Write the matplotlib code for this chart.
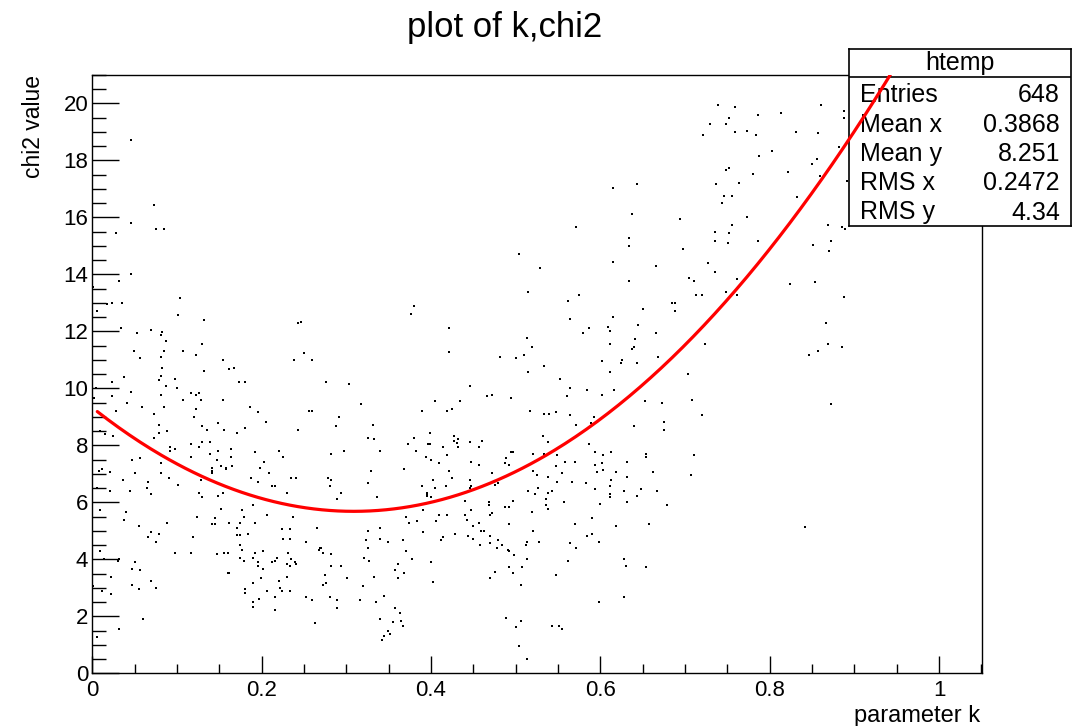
import matplotlib
matplotlib.use("Agg")
import numpy as np
import matplotlib.pyplot as plt
from matplotlib.ticker import MultipleLocator, FixedLocator

plt.rcParams['font.family'] = ['Liberation Sans', 'DejaVu Sans']

# ---- tree entries: (parameter k, chi2 value) ----
k_values = [
    0.0453, 0.0732, 0.0453, 0.0756, 0.0848, 0.0283, 0.0453,
    0.6148, 0.6431, 0.6372, 0.6935, 0.5714, 0.6337, 0.6337, 0.6974, 0.5038, 0.6148, 0.6655, 0.5282,
    0.7387, 0.7592, 0.8607, 0.8871, 0.8871, 0.7517, 0.7867, 0.8135, 0.7293, 0.7482, 0.7592, 0.7726,
    0.7839, 0.7214, 0.8308, 0.8568, 0.8816, 0.8025, 0.7875, 0.8556, 0.8501, 0.7478, 0.7521, 0.7800,
    0.8214, 0.8592, 0.8910, 0.7364, 0.7632, 0.7462, 0.7556, 0.8324, 0.7431, 0.7726, 0.7556, 0.8682,
    0.8851, 0.8890, 0.7348, 0.7517, 0.7348, 0.7502, 0.7856, 0.8725, 0.8512, 0.8701, 0.7273, 0.7348,
    0.0319, 0.0012, 0.1035, 0.0170, 0.0229, 0.0354, 0.0059, 0.1015, 0.1319, 0.2425, 0.2464, 0.0339,
    0.0697, 0.0826, 0.0811, 0.0528, 0.0867, 0.1299, 0.0489, 0.0847, 0.1074, 0.2499, 0.1224, 0.0563,
    0.0811, 0.1543, 0.2385, 0.2594, 0.0826, 0.1618, 0.1673, 0.1319, 0.0378, 0.0811, 0.0980, 0.0791,
    0.0229, 0.1732, 0.1806, 0.2763, 0.3027, 0.0867, 0.0044, 0.1000, 0.0453, 0.1165, 0.1224, 0.1263,
    0.0811, 0.0229, 0.0024, 0.1074, 0.1280, 0.1543, 0.0413, 0.3176, 0.0583, 0.0847, 0.1862, 0.1224,
    0.0283, 0.2555, 0.2594, 0.1956, 0.0732, 0.1204, 0.2913, 0.2051, 0.1484, 0.0791, 0.1299, 0.3310,
    0.2877, 0.1806, 0.1358, 0.1558, 0.2425, 0.0094, 0.0153, 0.0885, 0.0791, 0.1712, 0.0244, 0.0732,
    0.3251, 0.3326, 0.1299, 0.1393, 0.1165, 0.0921, 0.0980, 0.0921, 0.1260, 0.1484, 0.1634, 0.1917,
    0.2200, 0.3400, 0.2818, 0.2972, 0.1393, 0.1165, 0.1634, 0.2255, 0.0469, 0.0567, 0.1469, 0.2031,
    0.0811, 0.1410, 0.1410, 0.1410, 0.1523, 0.1578, 0.1578, 0.1653, 0.1976, 0.2090, 0.3290, 0.0075,
    0.0115, 0.0209, 0.0508, 0.0811,
    0.6333, 0.5148, 0.5750, 0.5620, 0.3798, 0.3763, 0.6840, 0.6880, 0.6880, 0.6502, 0.6148, 0.5640,
    0.6089, 0.6108, 0.5864, 0.6446, 0.4211, 0.5789, 0.6655, 0.5132, 0.6407, 0.6108, 0.5187, 0.6372,
    0.6392, 0.4211, 0.4813, 0.4999, 0.5093, 0.6675, 0.6014, 0.6257, 0.6242, 0.6427, 0.5337, 0.5148,
    0.6108, 0.5526, 0.4456, 0.5640, 0.5844, 0.6163, 0.4660, 0.4719, 0.4943, 0.5601, 0.6014, 0.4042,
    0.4341, 0.6522, 0.6730, 0.3889, 0.4191, 0.4250, 0.5168, 0.5337, 0.5396, 0.5471, 0.5640, 0.5919,
    0.5714, 0.5884, 0.6392, 0.6746, 0.6746, 0.3983, 0.3798, 0.4267, 0.5321, 0.4267, 0.4321, 0.4306,
    0.4456, 0.4605, 0.3723, 0.3967, 0.3983, 0.4137, 0.4321, 0.4569, 0.5377, 0.5864, 0.3818, 0.4943,
    0.4963, 0.5207, 0.5337, 0.5939, 0.6128, 0.6537, 0.6537, 0.4191, 0.3943, 0.5490, 0.6033, 0.4002,
    0.4888, 0.4475, 0.4097, 0.4569, 0.4869, 0.4923, 0.5581, 0.5695, 0.5939, 0.6014, 0.6317, 0.5471,
    0.3684, 0.4211, 0.4719, 0.5207, 0.5959, 0.6033, 0.6183, 0.6616, 0.5542,
    0.7049, 0.7104, 0.7612, 0.7124, 0.7198, 0.7482, 0.7612, 0.8234, 0.8533, 0.8871, 0.8662, 0.7237,
    0.8682, 0.8568, 0.8851, 0.8458, 0.7029, 0.7084, 0.8721, 0.7198, 0.7104,
    0.0359, 0.0661, 0.0906, 0.2346, 0.2405, 0.2783, 0.2818, 0.1877, 0.1956, 0.3251, 0.0059, 0.0209,
    0.0449, 0.0642, 0.0697, 0.1015, 0.1280, 0.1263, 0.1299, 0.1488, 0.1543, 0.2125, 0.2161, 0.2295,
    0.2803, 0.2933, 0.2893, 0.3365, 0.1897, 0.1523, 0.0094, 0.0394, 0.0378, 0.2066, 0.2370, 0.1240,
    0.1788, 0.1449, 0.0548, 0.0882, 0.1410, 0.1449, 0.1618, 0.1747, 0.1917, 0.1767, 0.1712, 0.2236,
    0.2331, 0.2649, 0.3251, 0.3400, 0.3495, 0.0697, 0.0791, 0.0661, 0.0752, 0.1842, 0.1712, 0.1747,
    0.1185, 0.2255, 0.2331, 0.3400, 0.3231, 0.2519, 0.1747, 0.1767, 0.3251, 0.0094, 0.0980, 0.1165,
    0.1469, 0.1558, 0.1598, 0.1917, 0.2012, 0.2314, 0.2688, 0.2704, 0.2673, 0.2724, 0.2818, 0.1747,
    0.1897, 0.2181, 0.3211, 0.3270, 0.0135, 0.0303, 0.0319, 0.0508, 0.1788, 0.1953, 0.1956, 0.2125,
    0.2161, 0.2295, 0.2334, 0.2349, 0.2389, 0.2405, 0.2818, 0.2933, 0.0472, 0.0567, 0.2012, 0.0224,
    0.1598, 0.1618, 0.1992, 0.2295, 0.2744, 0.3007, 0.3326, 0.0697, 0.1897, 0.2200, 0.2728, 0.2763,
    0.0472, 0.0012, 0.0115, 0.0548, 0.0752, 0.1806, 0.1806, 0.2066, 0.2216, 0.2236, 0.2331, 0.3196,
    0.0224, 0.2161, 0.2519, 0.2594, 0.2803, 0.2893, 0.3157, 0.3440, 0.3346, 0.1972, 0.1897, 0.1897,
    0.2893, 0.2161, 0.0602, 0.3400, 0.2633, 0.0319, 0.3495, 0.3511, 0.3440, 0.3420, 0.0059,
    0.4026, 0.4250, 0.4456, 0.5247, 0.5377, 0.6317, 0.3889, 0.4042, 0.4172, 0.4456, 0.4475, 0.4758,
    0.4793, 0.5490, 0.5660, 0.5829, 0.6112, 0.6128, 0.3948, 0.3948, 0.3948, 0.4002, 0.5148, 0.5262,
    0.5227, 0.5377, 0.5431, 0.5939, 0.6108, 0.6108, 0.6277, 0.6431, 0.6482, 0.6671, 0.4397, 0.4680,
    0.4680, 0.4963, 0.5360, 0.5360, 0.5377, 0.5565, 0.5998, 0.6317, 0.6785, 0.4869, 0.4923, 0.3908,
    0.4475, 0.5187, 0.3704, 0.4097, 0.4191, 0.4400, 0.4719, 0.4699, 0.3739, 0.3834, 0.4058, 0.4420,
    0.4569, 0.4923, 0.5695, 0.5903, 0.6183, 0.6576, 0.4495, 0.3908, 0.4286, 0.4589, 0.4625, 0.5207,
    0.5844, 0.5903, 0.4435, 0.4699, 0.4137, 0.4117, 0.4495, 0.3665, 0.4793, 0.5278, 0.5136, 0.5117,
    0.5640, 0.5979, 0.4582, 0.4699, 0.4833, 0.4775, 0.4904, 0.4923, 0.5714, 0.3704, 0.4982, 0.3778,
    0.5136, 0.5620, 0.6277, 0.4002, 0.3609, 0.6297, 0.4923, 0.5077, 0.6541, 0.3570, 0.4754, 0.3684,
    0.4963, 0.5471, 0.3609, 0.4699, 0.4026, 0.5058, 0.6277, 0.5979, 0.3570, 0.3629, 0.4888, 0.5058,
    0.3554, 0.3648, 0.3665, 0.5431, 0.5506, 0.5546, 0.5002, 0.5038, 0.5132,
    0.7068, 0.8418,
]

chi2_values = [
    18.71, 16.44, 15.82, 15.61, 15.61, 15.44, 14.02,
    17.05, 17.16, 16.11, 15.94, 15.67, 15.27, 15.00, 14.89, 14.72, 14.44, 14.28, 14.22,
    19.95, 19.89, 19.95, 19.72, 19.49, 19.49, 19.61, 19.67, 19.27, 19.27, 18.99, 19.05,
    18.89, 18.89, 18.99, 18.95, 18.49, 18.33, 18.16, 18.05, 17.88, 17.66, 17.72, 17.54,
    17.61, 17.44, 17.27, 17.16, 17.21, 16.77, 16.77, 16.71, 16.49, 16.00, 15.72, 15.72,
    15.67, 15.61, 15.49, 15.44, 15.16, 15.11, 15.16, 15.16, 15.05, 14.83, 14.39, 14.07,
    13.78, 13.55, 13.16, 12.97, 12.99, 12.99, 12.72, 12.56, 12.39, 12.28, 12.33, 12.11,
    12.05, 11.99, 11.89, 11.94, 11.66, 11.55, 11.33, 11.33, 11.33, 11.23, 11.16, 11.05,
    11.11, 10.99, 10.99, 10.99, 10.72, 10.67, 10.72, 10.61, 10.39, 10.44, 10.33, 10.28,
    10.22, 10.22, 10.22, 10.22, 10.16, 10.10, 10.00, 10.00, 9.88, 9.83, 9.78, 9.83,
    9.78, 9.72, 9.68, 9.61, 9.61, 9.61, 9.49, 9.44, 9.33, 9.33, 9.33, 9.27,
    9.21, 9.21, 9.21, 9.16, 9.11, 8.99, 8.99, 8.83, 8.77, 8.71, 8.67, 8.71,
    8.67, 8.61, 8.55, 8.55, 8.55, 8.49, 8.39, 8.49, 8.43, 8.44, 8.33, 8.27,
    8.27, 8.21, 8.11, 8.11, 8.05, 7.93, 7.88, 7.82, 7.93, 7.82, 7.88, 7.76,
    7.82, 7.82, 7.71, 7.82, 7.71, 7.60, 7.60, 7.60, 7.48, 7.54, 7.48, 7.43,
    7.37, 7.20, 7.10, 7.04, 7.26, 7.20, 7.16, 7.26, 7.20, 7.04, 7.10, 7.10,
    7.16, 7.06, 7.02, 7.04,
    13.78, 13.39, 13.27, 13.05, 12.89, 12.62, 12.99, 12.99, 12.72, 12.77, 12.50, 12.44,
    12.16, 12.00, 12.11, 12.22, 12.11, 11.94, 11.94, 11.78, 11.72, 11.55, 11.44, 11.38,
    11.44, 11.27, 11.11, 11.05, 11.16, 11.11, 10.95, 10.99, 10.89, 10.89, 10.77, 10.56,
    10.56, 10.34, 10.10, 10.00, 9.94, 9.94, 9.72, 9.78, 9.67, 9.72, 9.78, 9.55,
    9.55, 9.55, 9.49, 9.21, 9.21, 9.27, 9.21, 9.11, 9.11, 9.16, 9.05, 8.99,
    8.71, 8.77, 8.67, 8.83, 8.55, 8.43, 8.27, 8.33, 8.33, 8.16, 8.21, 8.09,
    8.11, 8.16, 8.05, 8.05, 8.05, 7.93, 7.93, 7.93, 8.11, 8.05, 7.82, 7.76,
    7.76, 7.71, 7.71, 7.76, 7.76, 7.71, 7.60, 7.65, 7.60, 7.65, 7.65, 7.48,
    7.54, 7.43, 7.37, 7.32, 7.38, 7.32, 7.43, 7.43, 7.32, 7.38, 7.43, 7.26,
    7.16, 7.10, 7.04, 7.10, 7.06, 7.12, 7.06, 7.06, 7.02,
    13.89, 13.78, 13.84, 13.27, 13.27, 13.39, 13.27, 13.66, 13.72, 13.21, 12.28, 11.55,
    11.55, 11.33, 11.45, 11.17, 10.50, 9.61, 9.45, 9.05, 7.67,
    6.78, 6.72, 6.84, 6.84, 6.84, 6.84, 6.78, 6.84, 6.72, 6.67, 6.50, 6.39,
    6.39, 6.50, 6.28, 6.62, 6.78, 6.34, 6.18, 6.22, 6.34, 6.56, 6.56, 6.34,
    6.56, 6.34, 6.12, 6.18, 5.89, 5.78, 5.72, 5.67, 5.39, 5.55, 5.49, 5.49,
    5.49, 5.44, 5.17, 5.28, 5.23, 5.23, 5.28, 5.28, 5.28, 5.73, 5.11, 5.05,
    5.05, 5.11, 5.00, 5.11, 4.62, 4.95, 4.89, 4.78, 4.62, 4.89, 4.84, 4.84,
    4.78, 4.72, 4.72, 4.72, 4.67, 4.62, 4.50, 4.34, 4.39, 4.28, 4.23, 4.23,
    4.18, 4.23, 4.23, 4.23, 4.28, 4.23, 4.40, 4.40, 4.34, 4.23, 4.18, 4.06,
    4.06, 4.06, 4.06, 3.95, 4.00, 3.94, 4.00, 3.89, 3.95, 3.89, 3.78, 3.89,
    3.95, 3.83, 3.78, 4.00, 3.89, 3.83, 3.78, 3.78, 3.67, 3.61, 3.67, 3.39,
    3.51, 3.51, 3.33, 3.39, 3.45, 3.33, 3.39, 3.23, 3.17, 3.23, 3.11, 3.17,
    3.11, 3.06, 2.90, 2.95, 3.00, 2.95, 2.83, 2.89, 3.00, 2.89, 2.89, 3.06,
    2.78, 2.67, 2.67, 2.56, 2.67, 2.56, 2.56, 2.72, 2.50, 2.62, 2.50, 2.34,
    2.28, 2.22, 1.89, 1.89, 1.78, 1.55, 1.49, 1.39, 1.30, 1.18, 1.28,
    6.78, 6.84, 6.78, 6.96, 6.90, 6.90, 6.56, 6.50, 6.56, 6.50, 6.56, 6.62,
    6.67, 6.72, 6.72, 6.67, 6.56, 6.78, 6.34, 6.28, 6.22, 6.18, 6.40, 6.50,
    6.28, 6.34, 6.40, 6.46, 6.28, 6.18, 6.40, 6.22, 6.46, 6.40, 6.06, 6.00,
    5.89, 6.06, 6.12, 5.89, 5.78, 6.00, 5.95, 6.00, 5.89, 5.84, 5.84, 5.72,
    5.72, 5.67, 5.49, 5.55, 5.55, 5.55, 5.61, 5.55, 5.28, 5.33, 5.33, 5.39,
    5.28, 5.23, 5.23, 5.45, 5.17, 5.23, 5.17, 4.95, 4.89, 5.00, 5.00, 5.00,
    4.83, 4.89, 4.83, 4.83, 4.78, 4.67, 4.72, 4.67, 4.67, 4.62, 4.62, 4.50,
    4.57, 4.62, 4.50, 4.57, 4.50, 4.39, 4.34, 4.28, 4.39, 4.28, 4.16, 4.00,
    4.00, 3.95, 4.00, 3.89, 3.83, 3.78, 3.72, 3.72, 3.72, 3.61, 3.55, 3.51,
    3.51, 3.44, 3.33, 3.33, 3.21, 3.11, 2.67, 2.50, 2.28, 2.11, 1.95, 1.84,
    1.79, 1.84, 1.67, 1.67, 1.67, 1.55, 1.61, 0.95, 0.50,
    6.95, 5.12,
]

# ---- pol2 fit: points sampled along the fitted function ----
fit_k = [0.0059, 0.1154, 0.1390, 0.1626, 0.1940, 0.2334, 0.2806, 0.3358, 0.3849,
         0.4243, 0.4636, 0.5030, 0.5424, 0.5817, 0.6210, 0.6604, 0.6998, 0.7332,
         0.7726, 0.8119, 0.8512, 0.8906, 0.9300, 0.9497]
fit_chi2 = [9.18, 7.13, 6.78, 6.49, 6.18, 5.91, 5.73, 5.73, 5.93,
            6.20, 6.61, 7.07, 7.83, 8.54, 9.35, 10.29, 11.40, 12.51,
            13.80, 15.55, 17.19, 18.77, 20.53, 20.96]

# ---- statistics box ----
stats_title = "htemp"
stats_names = ["Entries", "Mean x", "Mean y", "RMS x", "RMS y"]
stats_vals = ["648", "0.3868", "8.251", "0.2472", "4.34"]

x_ticks = [0, 0.2, 0.4, 0.6, 0.8, 1.0]
x_tick_labels = ["0", "0.2", "0.4", "0.6", "0.8", "1"]
y_ticks = list(range(0, 21, 2))

W, H = 1074, 726
fig = plt.figure(figsize=(W / 100, H / 100), dpi=100)
fig.patch.set_facecolor("white")

frame = [92.3 / W, 1 - 673.3 / H, (982.3 - 92.3) / W, (673.3 - 75) / H]
XLIM, YLIM = (0, 1.051), (0, 21)

ax = fig.add_axes(frame, zorder=1)
ax.set_xlim(*XLIM)
ax.set_ylim(*YLIM)

ax.plot(k_values, chi2_values, linestyle="none", marker="s", markersize=1.5,
        markeredgewidth=0, color="black")

for side in ax.spines.values():
    side.set_linewidth(1.0)
    side.set_color("black")

ax.xaxis.set_major_locator(FixedLocator(x_ticks))
ax.set_xticklabels(x_tick_labels)
ax.xaxis.set_minor_locator(MultipleLocator(0.05))
ax.yaxis.set_major_locator(FixedLocator(y_ticks))
ax.yaxis.set_minor_locator(MultipleLocator(0.5))

ax.tick_params(axis="x", which="major", direction="in", length=12.5, width=1.0,
               labelsize=16, pad=5, top=False)
ax.tick_params(axis="x", which="minor", direction="in", length=6.5, width=1.0, top=False)
ax.tick_params(axis="y", which="major", direction="in", length=19.5, width=1.0,
               labelsize=16, pad=3, right=False)
ax.tick_params(axis="y", which="minor", direction="in", length=10, width=1.0, right=False)

# axis titles, placed at the axis ends
fig.text(980 / W, 1 - 716 / H, "parameter k", fontsize=17, ha="right", va="center")
fig.text(33 / W, 1 - 75 / H, "chi2 value", fontsize=16.5, ha="center", va="top",
         rotation=90)

# pad title
fig.text(505 / W, 1 - 28 / H, "plot of k,chi2", fontsize=25, ha="center", va="center")

# statistics box (drawn over the markers)
bx0, bx1, by0, by1, bsep = 849, 1071, 49, 226, 77.5
box = fig.add_axes([bx0 / W, 1 - by1 / H, (bx1 - bx0) / W, (by1 - by0) / H], zorder=2)
box.set_xlim(bx0, bx1)
box.set_ylim(by1, by0)
box.set_xticks([])
box.set_yticks([])
box.set_facecolor("white")
for side in box.spines.values():
    side.set_linewidth(1.2)
    side.set_color("black")
box.plot([bx0, bx1], [bsep, bsep], color="black", linewidth=1.2)
box.text((bx0 + bx1) / 2, 63, stats_title, fontsize=18, ha="center", va="center")
row_y = [95, 124.5, 154, 183.5, 212.5]
for name, val, yy in zip(stats_names, stats_vals, row_y):
    box.text(860, yy, name, fontsize=18, ha="left", va="center")
    box.text(1060, yy, val, fontsize=18, ha="right", va="center")

# fitted function, drawn last so it passes over the box; clipped at the frame
coef = np.polyfit(fit_k, fit_chi2, 2)
k_fine = np.linspace(min(fit_k), max(fit_k), 300)
top = fig.add_axes(frame, zorder=3)
top.set_xlim(*XLIM)
top.set_ylim(*YLIM)
top.patch.set_alpha(0)
top.axis("off")
top.plot(k_fine, np.polyval(coef, k_fine), color="#ff0000", linewidth=2.3,
         solid_capstyle="round", clip_on=True)

fig.savefig("out.png", dpi=100, facecolor="white")
